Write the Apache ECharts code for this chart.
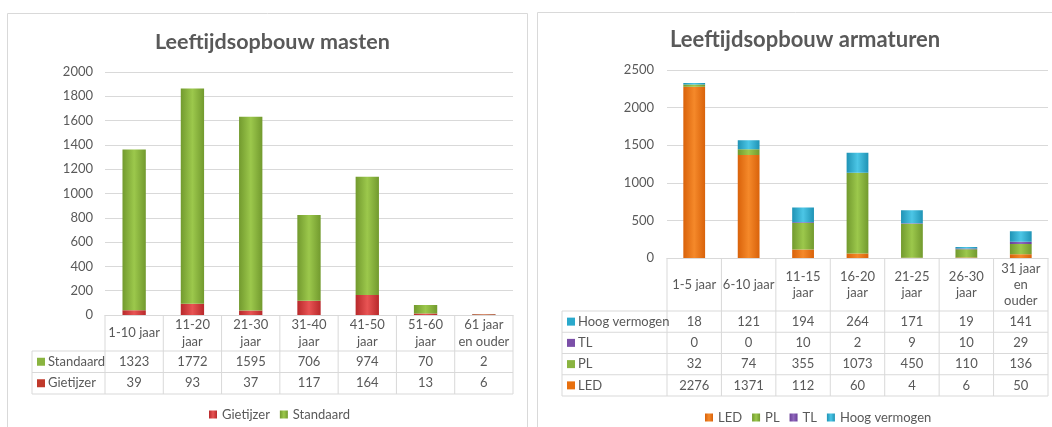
<!DOCTYPE html>
<html><head><meta charset="utf-8">
<script src="https://cdn.jsdelivr.net/npm/echarts@6/dist/echarts.min.js"></script>
<style>html,body{margin:0;padding:0;background:#fff}#c{width:1052px;height:427px}</style>
</head><body><div id="c"></div>
<script>
// ---- data: masten ----
const mastCategories = ['1-10 jaar','11-20 jaar','21-30 jaar','31-40 jaar','41-50 jaar','51-60 jaar','61 jaar en ouder'];
const mastTickLabels = ['1-10 jaar','11-20\njaar','21-30\njaar','31-40\njaar','41-50\njaar','51-60\njaar','61 jaar\nen ouder'];
const gietijzer = [39, 93, 37, 117, 164, 13, 6];
const standaard = [1323, 1772, 1595, 706, 974, 70, 2];
// ---- data: armaturen ----
const armCategories = ['1-5 jaar','6-10 jaar','11-15 jaar','16-20 jaar','21-25 jaar','26-30 jaar','31 jaar en ouder'];
const armTickLabels = ['1-5 jaar','6-10 jaar','11-15\njaar','16-20\njaar','21-25\njaar','26-30\njaar','31 jaar\nen\nouder'];
const led = [2276, 1371, 112, 60, 4, 6, 50];
const pl = [32, 74, 355, 1073, 450, 110, 136];
const tl = [0, 0, 10, 2, 9, 10, 29];
const hoog = [18, 121, 194, 264, 171, 19, 141];

const FONT = 'Lato, "Open Sans", sans-serif';
const TXT = '#595959';
const LINE = '#d9d9d9';
const COL = {
  Gietijzer: ['#b8292b', '#e85454', '#c0392b'],
  Standaard: ['#729a2e', '#9cc84c', '#8ab440'],
  LED: ['#d9620a', '#f5892a', '#e8700f'],
  PL: ['#729a2e', '#9cc84c', '#8ab440'],
  TL: ['#6a3f98', '#9068bd', '#7b4fa8'],
  'Hoog vermogen': ['#1f93b5', '#4cc6e6', '#2aa9cc']
};
function grad(n) {
  const c = COL[n];
  return new echarts.graphic.LinearGradient(0, 0, 1, 0, [
    {offset: 0, color: c[0]}, {offset: 0.5, color: c[1]}, {offset: 1, color: c[0]}
  ]);
}
function bar(name, data, idx) {
  return {
    name, type: 'bar', stack: 's' + idx, data, xAxisIndex: idx, yAxisIndex: idx,
    barWidth: '40%', itemStyle: {color: grad(name)}, emphasis: {disabled: true}
  };
}

const chart = echarts.init(document.getElementById('c'), null, {renderer: 'canvas'});
const axisLabel = {color: TXT, fontFamily: FONT, fontSize: 13};
chart.setOption({
  animation: false,
  textStyle: {fontFamily: FONT},
  title: [
    {text: 'Leeftijdsopbouw masten', left: 150, top: 26,
     textStyle: {fontFamily: FONT, fontSize: 21.5, fontWeight: 'bold', color: TXT}},
    {text: 'Leeftijdsopbouw armaturen', left: 665, top: 24,
     textStyle: {fontFamily: FONT, fontSize: 22, fontWeight: 'bold', color: TXT}}
  ],
  legend: [
    {data: ['Gietijzer', 'Standaard'], left: 204, top: 403, icon: 'rect', itemWidth: 8, itemHeight: 8,
     itemGap: 10, textStyle: {color: TXT, fontFamily: FONT, fontSize: 13}, selectedMode: false},
    {data: ['LED', 'PL', 'TL', 'Hoog vermogen'], left: 700, top: 406, icon: 'rect', itemWidth: 8, itemHeight: 8,
     itemGap: 10, textStyle: {color: TXT, fontFamily: FONT, fontSize: 13}, selectedMode: false}
  ],
  grid: [
    {left: 105, top: 72, width: 408, height: 243},
    {left: 667, top: 70, width: 381, height: 188}
  ],
  xAxis: [
    {type: 'category', gridIndex: 0, data: mastCategories,
     axisLine: {lineStyle: {color: LINE}}, axisTick: {show: false},
     axisLabel: Object.assign({}, axisLabel, {interval: 0, margin: 18, verticalAlign: 'middle', lineHeight: 17,
       formatter: (v, i) => mastTickLabels[i]})},
    {type: 'category', gridIndex: 1, data: armCategories,
     axisLine: {lineStyle: {color: LINE}}, axisTick: {show: false},
     axisLabel: Object.assign({}, axisLabel, {interval: 0, margin: 27, verticalAlign: 'middle', lineHeight: 16,
       formatter: (v, i) => armTickLabels[i]})}
  ],
  yAxis: [
    {type: 'value', gridIndex: 0, min: 0, max: 2000, interval: 200,
     axisLine: {show: false}, axisTick: {show: false},
     splitLine: {lineStyle: {color: LINE}},
     axisLabel: Object.assign({}, axisLabel, {margin: 12, formatter: v => String(v)})},
    {type: 'value', gridIndex: 1, min: 0, max: 2500, interval: 500,
     axisLine: {show: false}, axisTick: {show: false},
     splitLine: {lineStyle: {color: LINE}},
     axisLabel: Object.assign({}, axisLabel, {margin: 13, formatter: v => String(v)})}
  ],
  series: [
    bar('Gietijzer', gietijzer, 0),
    bar('Standaard', standaard, 0),
    bar('LED', led, 1),
    bar('PL', pl, 1),
    bar('TL', tl, 1),
    bar('Hoog vermogen', hoog, 1)
  ]
});

function table(k, rows, catH, rowH, headerLeft) {
  const n = k === 0 ? mastCategories.length : armCategories.length;
  const xs = [];
  for (let i = 0; i < n; i++) xs.push(chart.convertToPixel({xAxisIndex: k}, i));
  const bw = xs[1] - xs[0];
  const colLeft = xs[0] - bw / 2, colRight = xs[n - 1] + bw / 2;
  const axisY = chart.convertToPixel({yAxisIndex: k}, 0);
  const catBottom = axisY + catH;
  const bottom = catBottom + rows.length * rowH;
  const els = [];
  const ln = (x1, y1, x2, y2) => els.push({type: 'line', shape: {x1, y1, x2, y2}, style: {stroke: LINE, lineWidth: 1}, z: 5});
  for (let j = 0; j <= n; j++) ln(colLeft + j * bw, axisY, colLeft + j * bw, bottom);
  for (let r = 0; r <= rows.length; r++) ln(headerLeft, catBottom + r * rowH, colRight, catBottom + r * rowH);
  ln(headerLeft, catBottom, headerLeft, bottom);
  rows.forEach((row, r) => {
    const mid = catBottom + r * rowH + rowH / 2;
    els.push({type: 'rect', shape: {x: headerLeft + 5, y: mid - 4, width: 8, height: 8},
      style: {fill: COL[row.name][2]}, z: 6});
    els.push({type: 'text', x: headerLeft + 16, y: mid, z: 6,
      style: {text: row.name, fill: TXT, font: '13px ' + FONT, verticalAlign: 'middle', align: 'left'}});
    row.data.forEach((v, i) => {
      els.push({type: 'text', x: xs[i], y: mid, z: 6,
        style: {text: String(v), fill: TXT, font: '13px ' + FONT, verticalAlign: 'middle', align: 'center'}});
    });
  });
  return els;
}

const graphics = [
  {type: 'rect', shape: {x: 7.5, y: 13.5, width: 520, height: 430}, style: {fill: 'none', stroke: LINE, lineWidth: 1}, z: 1},
  {type: 'rect', shape: {x: 537.5, y: 12.5, width: 530, height: 430}, style: {fill: 'none', stroke: LINE, lineWidth: 1}, z: 1}
].concat(
  table(0, [{name: 'Standaard', data: standaard}, {name: 'Gietijzer', data: gietijzer}], 36, 21.5, 32),
  table(1, [{name: 'Hoog vermogen', data: hoog}, {name: 'TL', data: tl}, {name: 'PL', data: pl}, {name: 'LED', data: led}], 53, 21.25, 562)
);
chart.setOption({graphic: graphics});
</script></body></html>
